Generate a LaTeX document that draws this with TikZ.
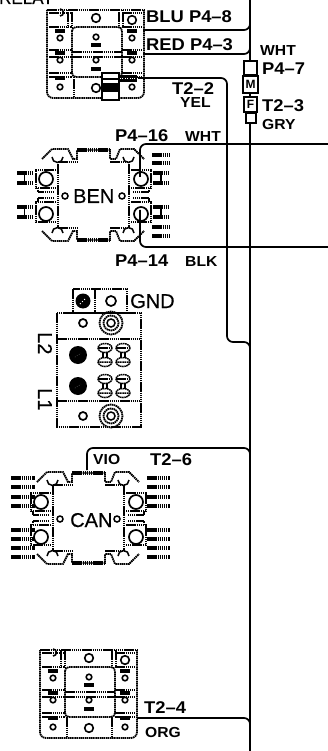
\documentclass[tikz,border=0pt]{standalone}
\usepackage{fontspec}
\setmainfont{Liberation Sans}
\newfontfamily\cadfont[FakeStretch=1.08,Ligatures=TeX]{Liberation Sans}
\newfontfamily\bigfont[FakeBold=0.4]{Liberation Sans}
\tikzset{
	wire/.style={line width=1.7pt, rounded corners=6pt},
	bus/.style={line width=2.3pt},
	dot/.style={line width=1.8pt, dash pattern=on 1.5pt off 0.6pt},
	dotb/.style={line width=3.4pt, dash pattern=on 1.5pt off 0.6pt},
	lab/.style={inner sep=0pt, anchor=base west, font=\cadfont\fontsize{17}{17}\selectfont\bfseries},
	labs/.style={inner sep=0pt, anchor=base west, font=\cadfont\fontsize{14.5}{15}\selectfont\bfseries},
	labb/.style={inner sep=0pt, anchor=base west, font=\bigfont\fontsize{20}{20}\selectfont},
	plug/.style={draw, fill=white, line width=1.6pt, inner sep=0pt, font=\fontsize{12}{12}\selectfont\bfseries},
	pics/relay/.style={code={
		\draw[dot, rounded corners=6pt] (0,0) -- (0,88) -- (97,88) -- (97,0);
		\draw[dot] (0,0) -- (97,0) (2,3) -- (24,3) (75,3) -- (95,3);
		\draw[dot, rounded corners=4pt] (25,17) -- (25,67) -- (75,67) -- (75,17) -- cycle;
		\draw[dot] (25,42) -- (75,42) (25,47) -- (75,47);
		\draw[dot] (2,17) -- (25,17) (75,17) -- (95,17) (2,40) -- (25,40) (75,40) -- (95,40);
		\draw[dot] (2,47) -- (25,47) (75,47) -- (95,47) (2,63) -- (25,63) (75,63) -- (95,63);
		\draw[dot] (2,67) -- (25,67) (75,67) -- (95,67);
		\draw[dot] (21,0) -- (21,17) (25,0) -- (25,17) (72,0) -- (72,17) (76,0) -- (76,17);
		\draw[dot] (27,67) -- (27,88) (72,67) -- (72,88);
		\foreach \px/\py in {13/28, 13/50, 13/77, 49/27, 49/50, 85/28, 85/50, 85/77}
			\draw[line width=1.6pt] (\px,\py) circle (2.8);
		\foreach \px/\py in {49/8, 85/10, 49/78}
			\draw[line width=1.6pt] (\px,\py) circle (4.3);
		\draw[line width=1.6pt] (13,6) arc (90:-90:3.5);
		\foreach \px/\py in {13/21, 13/43, 13/68, 49/35, 49/59, 85/21, 85/43, 85/68}
			\draw[dotb] (\px-5,\py) -- (\px+5,\py);
	}},
	pics/module/.style={code={
		\draw[dot] (0,0) -- (0,66) (71,0) -- (71,66) (0,0) -- (19,0) (52,0) -- (71,0) (0,66) -- (19,66) (52,66) -- (71,66);
		\draw[dot] (-16,-3) -- (-6,-13) -- (10,-13) -- (15,-3) -- (19,-3) -- (19,-12) -- (52,-12) -- (52,-3) -- (58,-3) -- (62,-13) -- (76,-13) -- (86,-3);
		\draw[dot] (-16,69) -- (-6,79) -- (10,79) -- (15,69) -- (19,69) -- (19,78) -- (52,78) -- (52,69) -- (58,69) -- (62,79) -- (76,79) -- (86,69);
		\draw[dotb] (19,-12) -- (52,-12) (19,78) -- (52,78);
		\draw[line width=1.5pt] (-6,-5) arc (180:0:5.5) (65,-5) arc (180:0:5.5);
		\draw[line width=1.5pt] (-6,71) arc (180:360:5.5) (65,71) arc (180:360:5.5);
		\foreach \px/\py in {-12/17, 83/17, -12/52, 83/52}
			\draw[line width=1.7pt] (\px,\py) circle (7);
		\foreach \px/\py in {7/34, 64/34}
			\draw[line width=1.5pt] (\px,\py) circle (3);
		\draw[dot] (-2,8) -- (-22,8) -- (-22,26) -- (-2,26) (73,8) -- (93,8) -- (93,26) -- (73,26);
		\draw[dot] (-2,40) -- (-22,40) -- (-22,60) -- (-2,60) (73,40) -- (93,40) -- (93,60) -- (73,60);
		\draw[dot] (-20,26) -- (-20,30) -- (-4,30) (91,26) -- (91,30) -- (75,30);
		\draw[dot] (-20,40) -- (-20,36) -- (-4,36) (91,40) -- (91,36) -- (75,36);
	}},
	pics/pinset/.style={code={
		\foreach \py in {0, 10, 34, 44}
			\draw[dotb] (0,\py) -- (#1,\py);
		\draw[dot] (#1/2,0) -- (#1/2,10) (#1/2,34) -- (#1/2,44);
	}},
	pics/coil/.style={code={
		\draw[dot, line width=1.5pt] (0,0) ellipse (7 and 4.5);
		\draw[dot, line width=1.5pt] (-7,0) -- (7,0) (-2,4) -- (-2,10) (2,4) -- (2,10);
	}}
}
\begin{document}
\begin{tikzpicture}[x=1pt, y=-1pt]
	\useasboundingbox (0, 0) rectangle (328, 751);
	\clip (0, 0) rectangle (328, 751);

	% wire ends
	\coordinate (busT) at (250, 0);
	\coordinate (busB) at (250, 751);
	\coordinate (busBlu) at (250, 20);
	\coordinate (busRed) at (250, 42);
	\coordinate (busVio) at (250, 448);
	\coordinate (busOrg) at (250, 718);
	\coordinate (cornerYel) at (227, 78);
	\coordinate (cornerYelB) at (227, 342);
	\coordinate (cornerBlu) at (250, 30);
	\coordinate (cornerRed) at (250, 54);
	\coordinate (relayBlu) at (143, 30);
	\coordinate (relayRed) at (143, 54);
	\coordinate (relayYel) at (138, 78);
	\coordinate (benTop) at (140, 177);
	\coordinate (benBot) at (140, 210);
	\coordinate (edgeWht) at (328, 144);
	\coordinate (edgeBlk) at (328, 247);
	\coordinate (canTop) at (87, 470);
	\coordinate (relayOrg) at (137, 718);

	% modules
	\pic at (47, 10) {relay};
	\pic at (40, 650) {relay};
	\pic at (58, 162) {module};
	\pic at (53, 485) {module};
	\pic at (17, 173) {pinset=15};
	\pic at (153, 173) {pinset=16};
	\draw[dotb] (152, 155) -- (170, 155) (152, 163) -- (170, 163);
	\draw[dotb] (152, 227) -- (170, 227) (152, 236) -- (170, 236);
	\foreach \py in {478, 487, 497, 506, 530, 539, 548, 557}
		\draw[dotb] (11, \py) -- (35, \py) (147, \py) -- (170, \py);

	% ground block
	\draw[dot] (73, 289) rectangle (127, 313);
	\draw[dot] (95, 289) -- (95, 313);
	\draw[dot] (57, 313) rectangle (141, 427);
	\draw[dot] (57, 339) -- (141, 339) (57, 401) -- (141, 401);
	\fill (83, 301) circle (7.5);
	\draw[white, line width=1pt, dotted] (80, 304) -- (86, 298);
	\draw[line width=1.7pt] (111, 301) circle (5);
	\foreach \py in {323, 416} {
		\draw[line width=1.7pt] (83, \py) circle (4);
		\draw[dot] (111, \py) circle (11.5);
		\draw[dot] (111, \py) circle (7.5);
		\draw[line width=1.5pt] (111, \py) circle (4);
	}
	\foreach \py in {355, 386} {
		\fill (78, \py) circle (9);
		\draw[white, dotted] (75, \py+2) -- (81, \py-2);
	}
	\foreach \px in {105, 123}
		\foreach \py in {348, 379}
			\pic at (\px, \py) {coil};
	\foreach \px in {105, 123}
		\foreach \py in {362, 393}
			\draw[dot, line width=1.5pt] (\px, \py) ellipse (7 and 4.5) (\px-7, \py) -- (\px+7, \py);

	% wires
	\draw[bus] (busT) -- (busB);
	\draw[wire] (relayBlu) -- (cornerBlu) -- (busBlu);
	\draw[wire] (relayRed) -- (cornerRed) -- (busRed);
	\draw[wire] (relayYel) -- (cornerYel) -- (cornerYelB) -- (250, 342) -- (250, 356);
	\draw[wire] (benTop) -- (140, 144) -- (edgeWht);
	\draw[wire] (benBot) -- (140, 247) -- (edgeBlk);
	\draw[wire] (canTop) -- (87, 448) -- (busVio) -- (250, 460);
	\draw[wire] (relayOrg) -- (busOrg) -- (250, 730);

	% relay plug
	\draw[fill=white, line width=1.6pt] (102, 73) rectangle (119, 100);
	\draw[line width=1.6pt] (102, 79) -- (119, 79);
	\fill (102, 83) rectangle (119, 92);
	\fill (119, 75) rectangle (137, 82);
	\draw[white, dotted] (120, 78.5) -- (136, 78.5);

	% plugs on the bus
	\node[plug, minimum width=13pt, minimum height=14pt] (plugWht) at (250.5, 68) {};
	\node[plug, minimum width=15pt, minimum height=17pt] (plugM) at (250.5, 84.5) {M};
	\node[plug, minimum width=13pt, minimum height=15pt] (plugF) at (250.5, 104.5) {F};
	\node[plug, minimum width=10pt, minimum height=10pt] (plugGry) at (251, 118) {};

	% labels
	\node[inner sep=0pt, anchor=base west, font=\bigfont\fontsize{17}{17}\selectfont] (lRelay) at (-1, 4) {RELAY};
	\node[lab] (lBlu) at (146, 23) {BLU P4--8};
	\node[lab] (lRed) at (146, 51) {RED P4--3};
	\node[labs] (lWhtA) at (260, 56) {WHT};
	\node[lab] (lPSeven) at (262, 75) {P4--7};
	\node[lab] (lTThree) at (262, 112) {T2--3};
	\node[labs] (lGry) at (262, 130) {GRY};
	\node[lab] (lTTwo) at (172, 95) {T2--2};
	\node[labs] (lYel) at (180, 108) {YEL};
	\node[lab] (lPSixteen) at (115, 142) {P4--16};
	\node[labs] (lWhtB) at (185, 142) {WHT};
	\node[lab] (lPFourteen) at (115, 266) {P4--14};
	\node[labs] (lBlk) at (185, 266) {BLK};
	\node[labb] (lBen) at (73, 203) {BEN};
	\node[labb] (lGnd) at (130, 308) {GND};
	\node[labb, rotate=-90, anchor=base west] (lLTwo) at (38, 332) {L2};
	\node[labb, rotate=-90, anchor=base west] (lLOne) at (38, 388) {L1};
	\node[labs] (lVio) at (93, 464) {VIO};
	\node[lab] (lTSix) at (150, 465) {T2--6};
	\node[labb] (lCan) at (70, 527) {CAN};
	\node[lab] (lTFour) at (144, 713) {T2--4};
	\node[labs] (lOrg) at (145, 737) {ORG};
\end{tikzpicture}
\end{document}
